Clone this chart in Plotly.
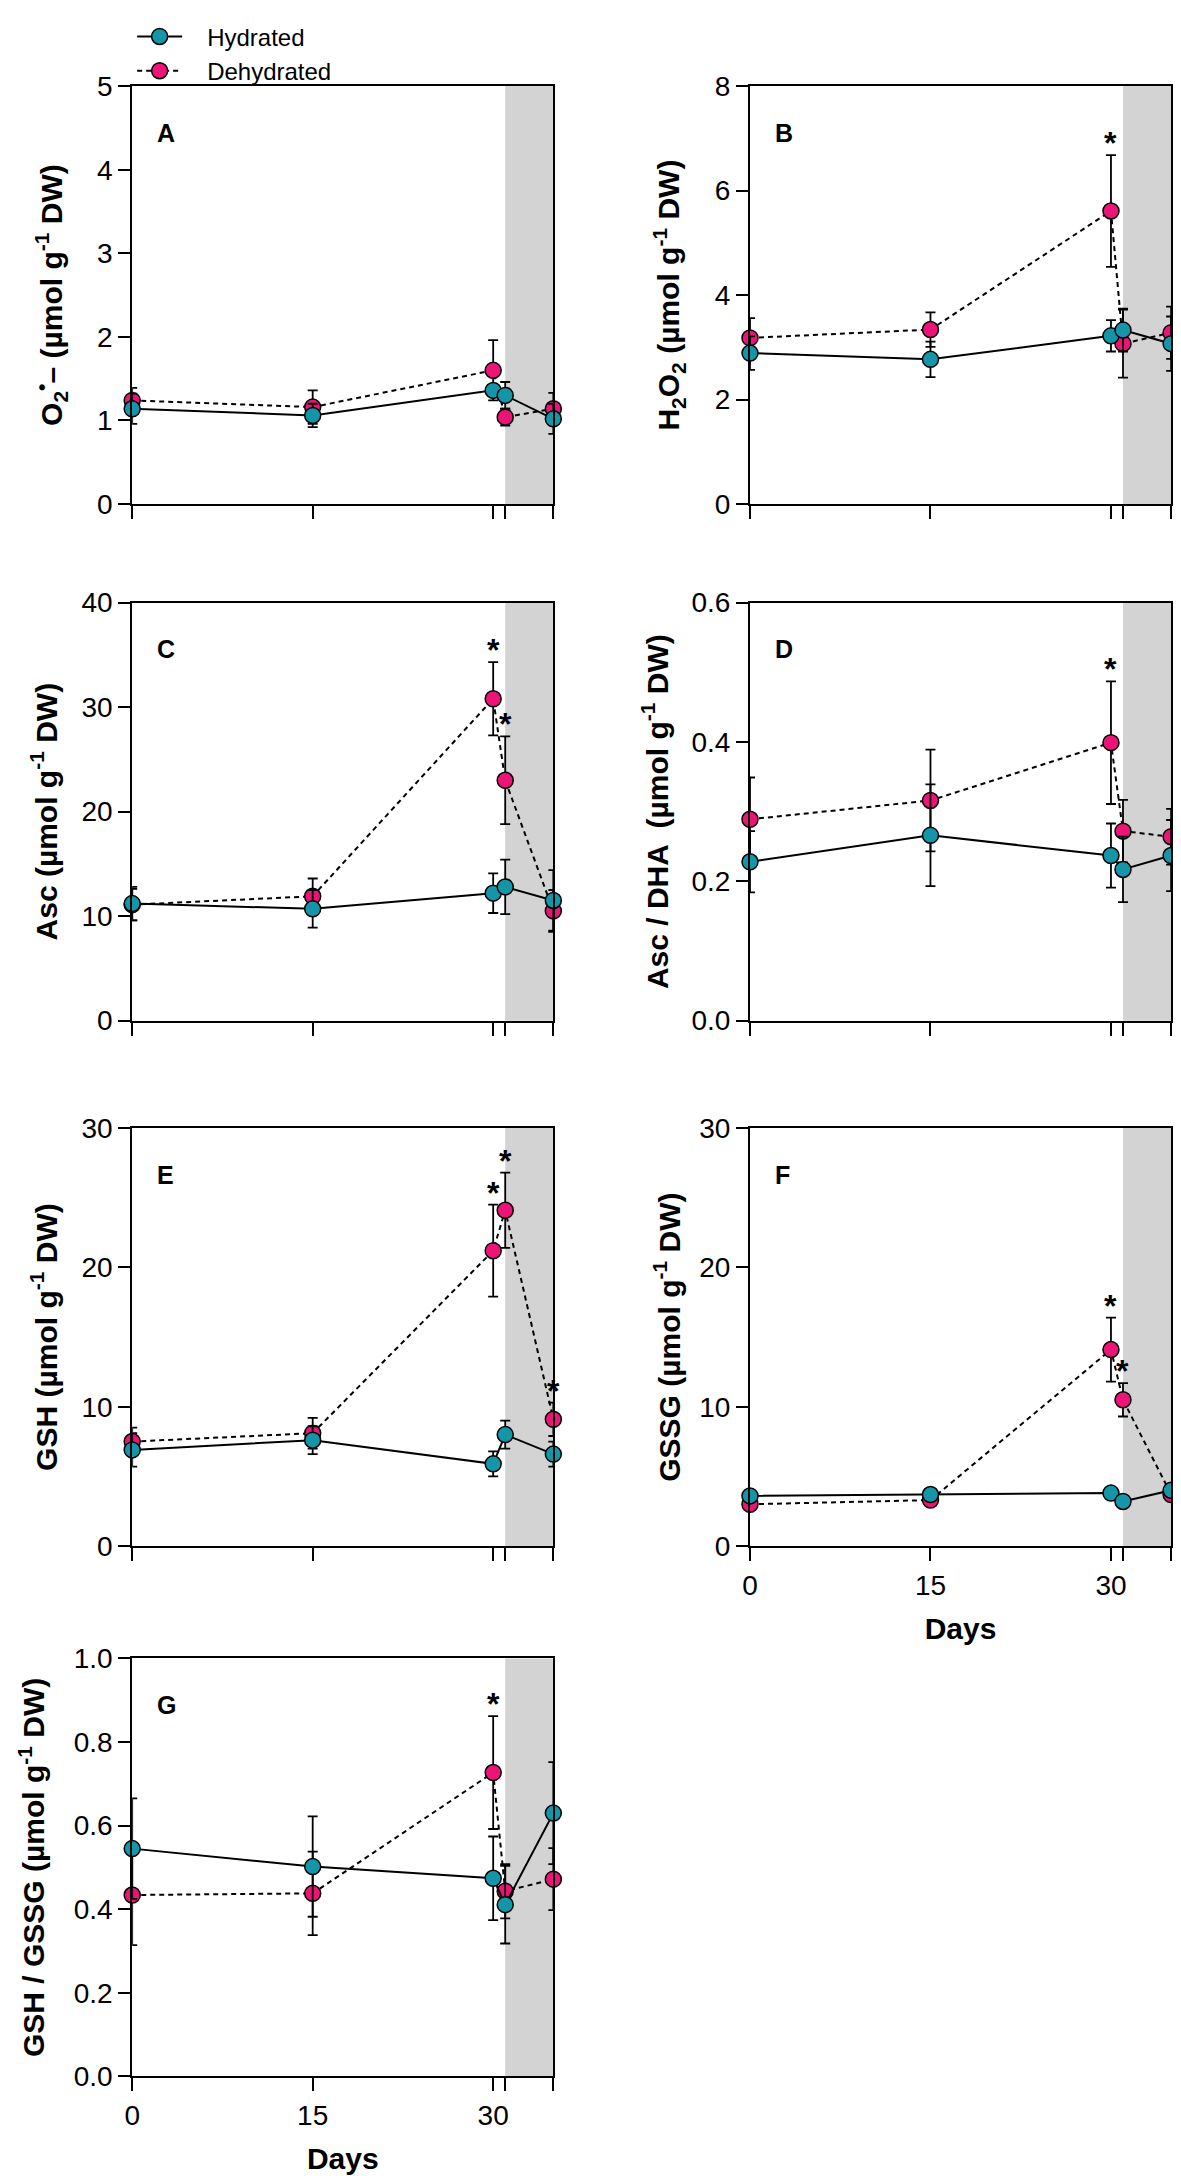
import plotly.graph_objects as go

# sampling days (31-35 is the rehydration period, shaded grey)
days = [0, 15, 30, 31, 35]

# A  O2•-
a_hyd = [1.14, 1.06, 1.36, 1.30, 1.02]
a_hyd_err = [0.18, 0.14, 0.06, 0.16, 0.18]
a_deh = [1.24, 1.16, 1.60, 1.04, 1.14]
a_deh_err = [0.15, 0.20, 0.36, 0.10, 0.19]

# B  H2O2
b_hyd = [2.89, 2.77, 3.22, 3.33, 3.07]
b_hyd_err = [0.32, 0.34, 0.30, 0.41, 0.52]
b_deh = [3.18, 3.34, 5.61, 3.07, 3.28]
b_deh_err = [0.38, 0.33, 1.07, 0.65, 0.50]

# C  Asc
c_hyd = [11.2, 10.7, 12.2, 12.8, 11.5]
c_hyd_err = [1.6, 1.8, 1.9, 2.6, 2.9]
c_deh = [11.1, 11.9, 30.8, 23.0, 10.5]
c_deh_err = [1.5, 1.7, 3.5, 4.2, 2.0]

# D  Asc / DHA
d_hyd = [0.228, 0.266, 0.237, 0.217, 0.237]
d_hyd_err = [0.044, 0.073, 0.046, 0.047, 0.051]
d_deh = [0.289, 0.316, 0.399, 0.272, 0.264]
d_deh_err = [0.060, 0.073, 0.088, 0.045, 0.040]

# E  GSH
e_hyd = [6.9, 7.6, 5.9, 8.0, 6.6]
e_hyd_err = [1.2, 1.0, 0.9, 1.0, 0.9]
e_deh = [7.5, 8.1, 21.2, 24.1, 9.1]
e_deh_err = [1.0, 1.1, 3.3, 2.7, 1.2]

# F  GSSG
f_hyd = [3.6, 3.7, 3.8, 3.2, 4.0]
f_hyd_err = [0.25, 0.25, 0.25, 0.25, 0.25]
f_deh = [3.0, 3.3, 14.1, 10.5, 3.7]
f_deh_err = [0.25, 0.25, 2.3, 1.2, 0.25]

# G  GSH / GSSG
g_hyd = [0.545, 0.502, 0.474, 0.411, 0.630]
g_hyd_err = [0.12, 0.12, 0.10, 0.093, 0.122]
g_deh = [0.434, 0.438, 0.727, 0.443, 0.472]
g_deh_err = [0.12, 0.10, 0.135, 0.065, 0.074]

# significant differences (index into days) marked with *
stars = {"A": [], "B": [2], "C": [2, 3], "D": [2], "E": [2, 3, 4], "F": [2, 3], "G": [2]}

y_titles = {
    "A": "O<sub>2</sub><sup>•</sup>– (µmol g<sup>-1</sup> DW)",
    "B": "H<sub>2</sub>O<sub>2</sub> (µmol g<sup>-1</sup> DW)",
    "C": "Asc (µmol g<sup>-1</sup> DW)",
    "D": "Asc / DHA  (µmol g<sup>-1</sup> DW)",
    "E": "GSH (µmol g<sup>-1</sup> DW)",
    "F": "GSSG (µmol g<sup>-1</sup> DW)",
    "G": "GSH / GSSG (µmol g<sup>-1</sup> DW)",
}
y_ticks = {
    "A": [0, 1, 2, 3, 4, 5],
    "B": [0, 2, 4, 6, 8],
    "C": [0, 10, 20, 30, 40],
    "D": [0, 0.2, 0.4, 0.6],
    "E": [0, 10, 20, 30],
    "F": [0, 10, 20, 30],
    "G": [0, 0.2, 0.4, 0.6, 0.8, 1.0],
}
y_fmt = {"A": "d", "B": "d", "C": "d", "D": ".1f", "E": "d", "F": "d", "G": ".1f"}
# gap between tick labels and y title
y_standoff = {"A": 26, "B": 26, "C": 15, "D": 14, "E": 15, "F": 10, "G": 20}

panels = {
    "A": (a_hyd, a_hyd_err, a_deh, a_deh_err),
    "B": (b_hyd, b_hyd_err, b_deh, b_deh_err),
    "C": (c_hyd, c_hyd_err, c_deh, c_deh_err),
    "D": (d_hyd, d_hyd_err, d_deh, d_deh_err),
    "E": (e_hyd, e_hyd_err, e_deh, e_deh_err),
    "F": (f_hyd, f_hyd_err, f_deh, f_deh_err),
    "G": (g_hyd, g_hyd_err, g_deh, g_deh_err),
}

W, H = 1181, 2183
TEAL = "#1595A8"
PINK = "#EC1577"
FONT = "Liberation Sans, Arial, sans-serif"
PAD = "\u00a0\u00a0\u00a0"  # extra room between legend symbol and label

# panel boxes in pixels: (left, right), (top, bottom)
cols = [(117, 541), (739, 1163)]
rows = [(64, 488), (588, 1012), (1121, 1545), (1659, 2083)]
boxes = {
    "A": (cols[0], rows[0]), "B": (cols[1], rows[0]),
    "C": (cols[0], rows[1]), "D": (cols[1], rows[1]),
    "E": (cols[0], rows[2]), "F": (cols[1], rows[2]),
    "G": (cols[0], rows[3]),
}
with_days = ["F", "G"]

fig = go.Figure()
shapes = []
annotations = []

for i, (name, (hyd, hyd_err, deh, deh_err)) in enumerate(panels.items()):
    n = "" if i == 0 else str(i + 1)
    xa, ya = "x" + n, "y" + n
    (l, r), (t, b) = boxes[name]

    fig.add_trace(go.Scatter(
        x=days, y=deh, xaxis=xa, yaxis=ya, name=PAD + "Dehydrated", showlegend=(i == 0),
        mode="lines+markers", cliponaxis=False,
        line=dict(color="black", width=2, dash="5px,4px"),
        marker=dict(size=16, color=PINK, line=dict(color="black", width=1.5)),
        error_y=dict(type="data", array=deh_err, color="black", thickness=1.8, width=5),
    ))
    fig.add_trace(go.Scatter(
        x=days, y=hyd, xaxis=xa, yaxis=ya, name=PAD + "Hydrated", showlegend=(i == 0),
        mode="lines+markers", cliponaxis=False,
        line=dict(color="black", width=2),
        marker=dict(size=16, color=TEAL, line=dict(color="black", width=1.5)),
        error_y=dict(type="data", array=hyd_err, color="black", thickness=1.8, width=5),
    ))

    ticks = y_ticks[name]
    fig.update_layout({
        "xaxis" + n: dict(
            domain=[l / W, r / W], anchor=ya, range=[0, 35],
            tickvals=[0, 15, 30, 31, 35],
            ticktext=["0", "15", "30", "", ""] if name in with_days else [""] * 5,
            ticks="outside", ticklen=13, tickwidth=2, tickcolor="black",
            showline=True, linewidth=2, linecolor="black", mirror=True,
            showgrid=False, zeroline=False,
            tickfont=dict(family=FONT, size=28, color="black"),
            title=dict(text="<b>Days</b>" if name in with_days else "",
                       font=dict(family=FONT, size=30, color="black"), standoff=18),
        ),
        "yaxis" + n: dict(
            domain=[1 - b / H, 1 - t / H], anchor=xa, range=[0, ticks[-1]],
            tickvals=ticks, tickformat=y_fmt[name],
            ticks="outside", ticklen=12, tickwidth=2, tickcolor="black",
            showline=True, linewidth=2, linecolor="black", mirror=True,
            showgrid=False, zeroline=False,
            tickfont=dict(family=FONT, size=28, color="black"),
            title=dict(text="<b>" + y_titles[name] + "</b>",
                       font=dict(family=FONT, size=30, color="black"),
                       standoff=y_standoff[name]),
        ),
    })

    # rehydration period
    shapes.append(dict(type="rect", xref=xa, yref=ya + " domain", x0=31, x1=35, y0=0, y1=1,
                       fillcolor="#D3D3D3", line=dict(width=0), layer="below"))

    annotations.append(dict(text="<b>" + name + "</b>", xref=xa + " domain", yref=ya + " domain",
                            x=0.055, y=0.927, showarrow=False,
                            font=dict(family=FONT, size=25, color="black")))

    for k in stars[name]:
        annotations.append(dict(text="<b>*</b>", xref=xa, yref=ya, x=days[k],
                                y=deh[k] + deh_err[k], yanchor="bottom", yshift=-8,
                                showarrow=False, font=dict(family=FONT, size=32, color="black")))

fig.update_layout(
    width=W, height=H,
    margin=dict(l=0, r=0, t=0, b=0),
    paper_bgcolor="white", plot_bgcolor="white",
    shapes=shapes, annotations=annotations,
    legend=dict(x=0.099, y=1.004, xanchor="left", yanchor="top", traceorder="reversed",
                font=dict(family=FONT, size=24, color="black"), bgcolor="rgba(0,0,0,0)",
                itemwidth=45, tracegroupgap=0),
)

fig.write_html("out.html")
